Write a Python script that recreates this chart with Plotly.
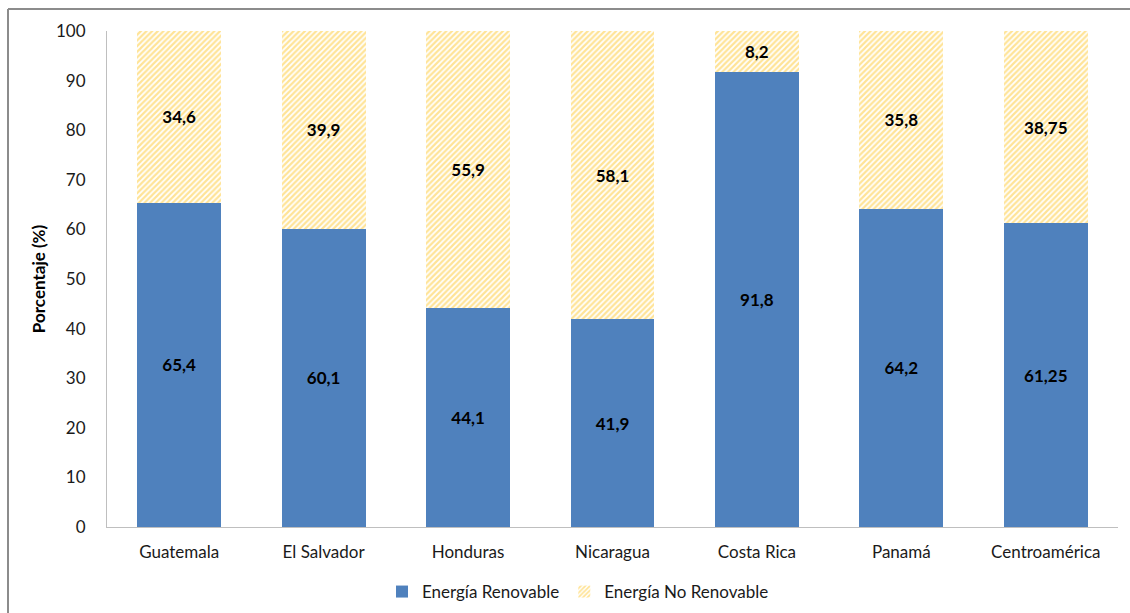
import plotly.graph_objects as go

paises = ["Guatemala", "El Salvador", "Honduras", "Nicaragua", "Costa Rica", "Panamá", "Centroamérica"]
renovable = [65.4, 60.1, 44.1, 41.9, 91.8, 64.2, 61.25]
no_renovable = [34.6, 39.9, 55.9, 58.1, 8.2, 35.8, 38.75]
y_ticks = [0, 10, 20, 30, 40, 50, 60, 70, 80, 90, 100]


def etiqueta(v):
    return f"{v:g}".replace(".", ",")


W, H = 1130, 613
ML, MR, MT, MB = 107, 12, 31, 86
FONT = "Lato, 'Open Sans', sans-serif"
LABEL_FONT = dict(family=FONT, size=17, color="black", weight="bold")

fig = go.Figure()
fig.add_trace(go.Bar(
    x=paises, y=renovable, name="Energía Renovable",
    marker=dict(color="#4F81BD", line=dict(width=0)),
    text=[etiqueta(v) for v in renovable], textposition="inside",
    insidetextanchor="middle", textfont=LABEL_FONT,
))
fig.add_trace(go.Bar(
    x=paises, y=no_renovable, name="Energía No Renovable",
    marker=dict(color="white", line=dict(width=0),
                pattern=dict(shape="/", fgcolor="#FFC82E", bgcolor="white",
                             size=4, solidity=0.55)),
    text=[etiqueta(v) for v in no_renovable], textposition="inside",
    insidetextanchor="middle", textfont=LABEL_FONT,
))

pw = W - ML - MR
ph = H - MT - MB


def px_x(p):
    return (p - ML) / pw


def px_y(p):
    return (H - MB - p) / ph


# outer frame (top and left edges)
fig.add_shape(type="line", xref="paper", yref="paper",
              x0=px_x(8), x1=px_x(1131), y0=px_y(9), y1=px_y(9),
              line=dict(color="#8c8c8c", width=2))
fig.add_shape(type="line", xref="paper", yref="paper",
              x0=px_x(8), x1=px_x(8), y0=px_y(9), y1=px_y(614),
              line=dict(color="#8c8c8c", width=2))

fig.update_layout(
    width=W, height=H,
    margin=dict(l=ML, r=MR, t=MT, b=MB, autoexpand=False),
    barmode="stack", bargap=0.42,
    plot_bgcolor="white", paper_bgcolor="white",
    font=dict(family=FONT, size=17, color="#1a1a1a"),
    legend=dict(orientation="h", xref="container", x=578 / W, xanchor="center",
                yref="container", y=1 - 592 / H, yanchor="middle",
                font=dict(size=17, color="#1a1a1a"), traceorder="normal"),
    xaxis=dict(showline=True, linecolor="#bfbfbf", linewidth=1, ticks="",
               tickfont=dict(size=17), showgrid=False, automargin=False,
               ticklabelstandoff=10),
    yaxis=dict(range=[0, 100], tickvals=y_ticks, showline=True, linecolor="#bfbfbf",
               linewidth=1, showgrid=False, ticks="", ticklabelstandoff=17,
               automargin=False,
               title=dict(text="<b>Porcentaje (%)</b>", font=dict(size=17, color="black"),
                          standoff=6),
               tickfont=dict(size=17)),
)

fig.write_html("out.html")
